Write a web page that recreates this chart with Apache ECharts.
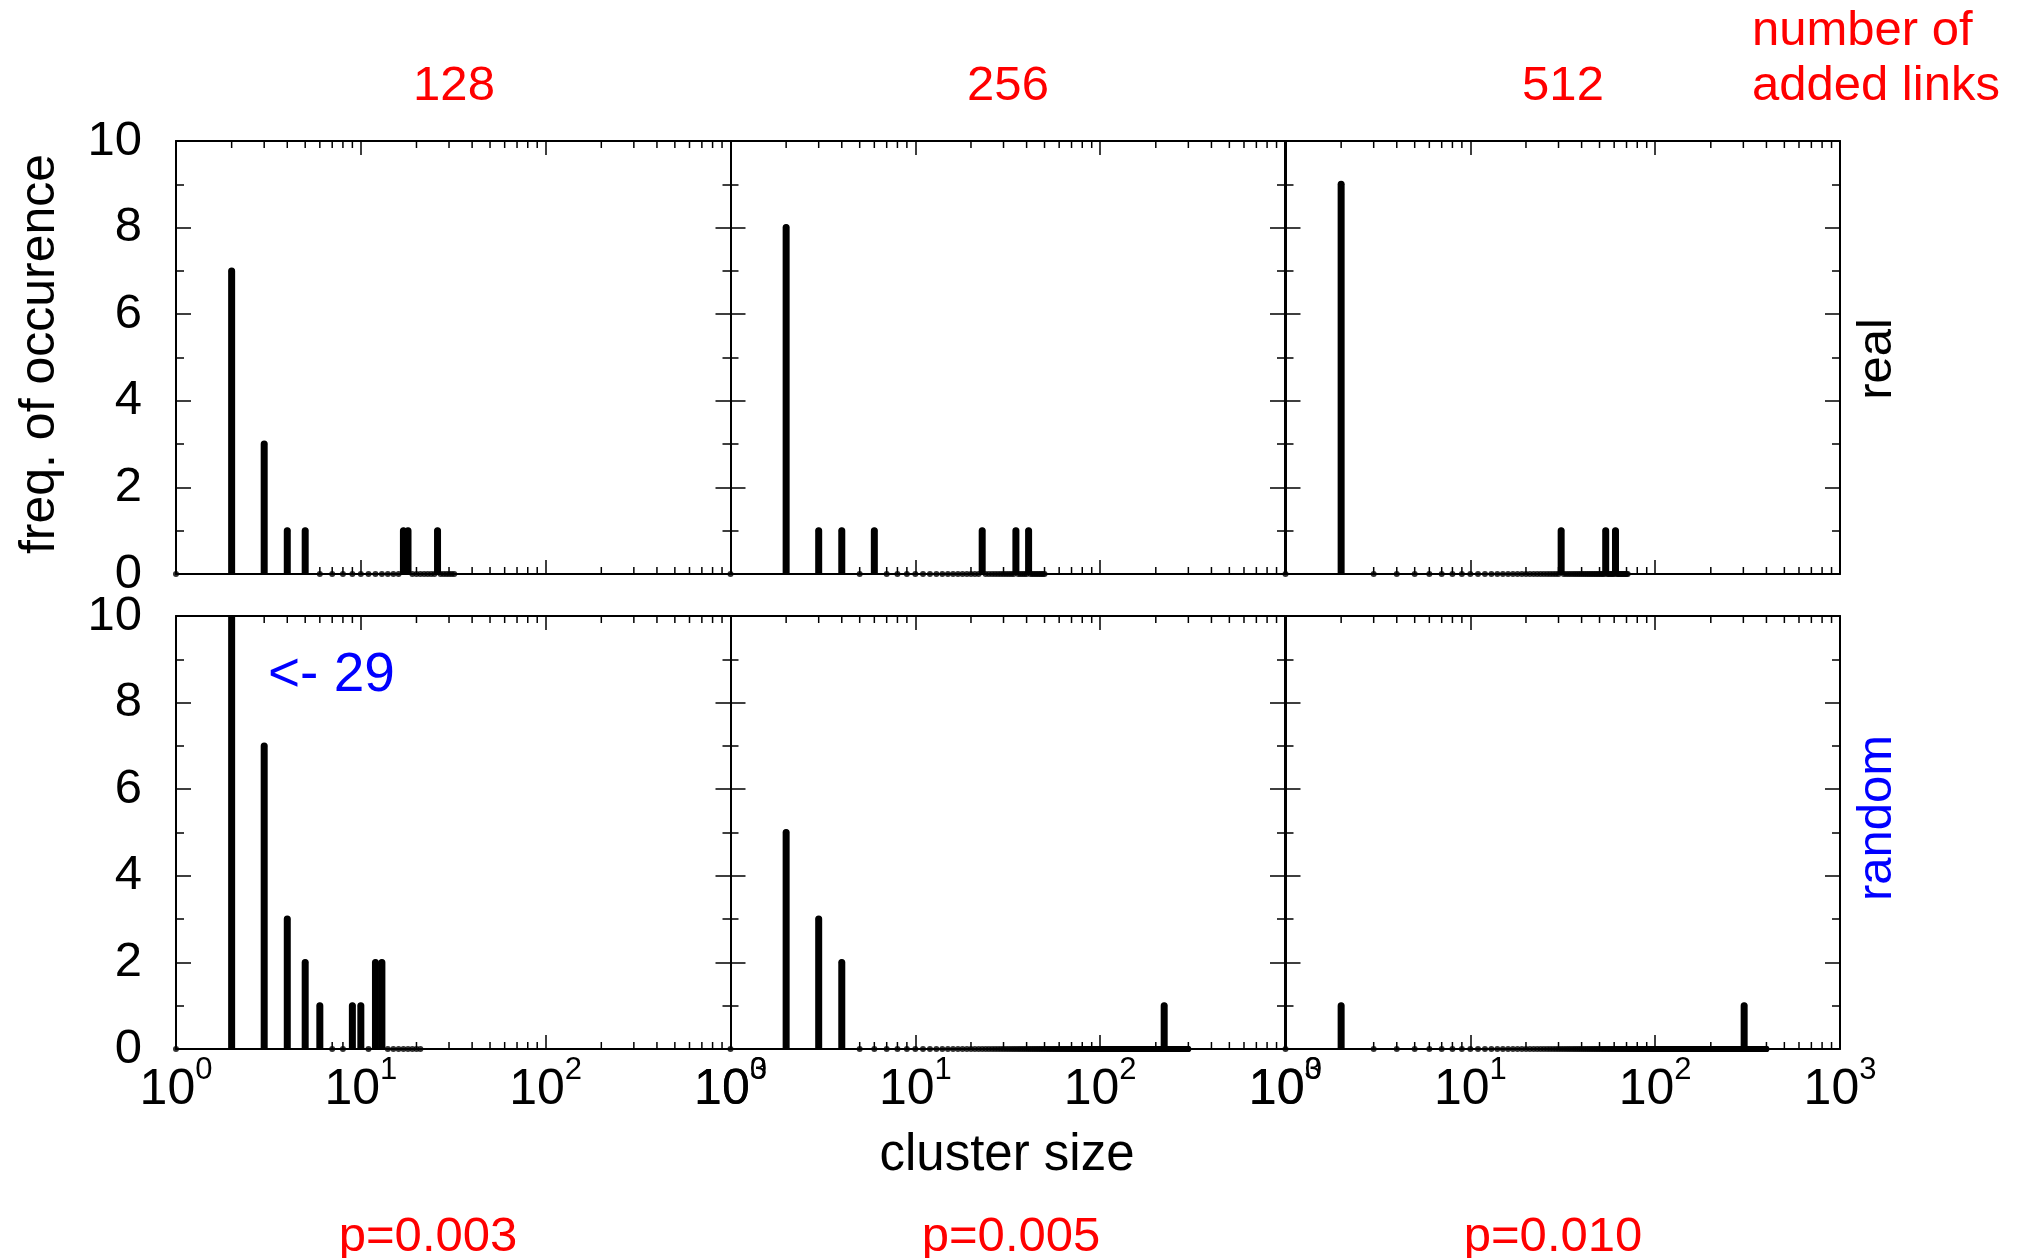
<!DOCTYPE html>
<html>
<head>
<meta charset="utf-8">
<script src="https://cdn.jsdelivr.net/npm/echarts@6/dist/echarts.min.js"></script>
<style>
  html, body { margin: 0; padding: 0; background: #fff; }
  #main { width: 2020px; height: 1258px; }
</style>
</head>
<body>
<div id="main"></div>
<script>
// cluster sizes with a nonzero count, per panel (columns: 128, 256, 512 added links)
const realSizes = [[2, 3, 4, 5, 17, 18, 26], [2, 3, 4, 6, 23, 35, 41], [2, 31, 54, 61]];
const realCounts = [[7, 3, 1, 1, 1, 1, 1], [8, 1, 1, 1, 1, 1, 1], [9, 1, 1, 1]];
const realMaxSize = [32, 50, 71];
const randomSizes = [[2, 3, 4, 5, 6, 9, 10, 12, 13], [2, 3, 4, 222], [2, 303]];
const randomCounts = [[29, 7, 3, 2, 1, 1, 1, 2, 2], [5, 3, 2, 1], [1, 1]];
const randomMaxSize = [21, 300, 400];

const linksLabels = ['128', '256', '512'];
const pLabels = ['p=0.003', 'p=0.005', 'p=0.010'];
const xMinorTicks = [2, 3, 4, 5, 6, 7, 8, 9, 20, 30, 40, 50, 60, 70, 80, 90,
                     200, 300, 400, 500, 600, 700, 800, 900];

const FONT = "'Liberation Sans', Arial, Helvetica, sans-serif";
const RED = '#ff0000', BLUE = '#0000ff';
const Y_MAX = 10;

const chart = echarts.init(document.getElementById('main'));

const colLeft = [176, 730.5, 1285.5];
const rowTop = [141, 616];
const W = 554.5, H = 433;

const grids = [], xAxes = [], yAxes = [], series = [];

function buildPanel(row, col, sizes, counts, maxSize) {
  const i = grids.length;
  grids.push({ left: colLeft[col], top: rowTop[row], width: W, height: H });

  const lineStyle = { color: '#000', width: 2 };
  const tickStyle = { color: '#000', width: 1.5 };
  ['bottom', 'top'].forEach(pos => {
    xAxes.push({
      type: 'log', logBase: 10, min: 1, max: 1000, splitNumber: 3,
      gridIndex: i, position: pos,
      axisLine: { show: true, onZero: false, lineStyle: lineStyle },
      axisTick: { show: true, inside: true, length: 14, lineStyle: tickStyle },
      splitLine: { show: false },
      axisLabel: {
        show: pos === 'bottom' && row === 1,
        margin: 6,
        formatter: v => '{b|10}{s|' + Math.round(Math.log10(v)) + '}',
        rich: {
          b: { fontSize: 50, fontFamily: FONT, color: '#000', padding: [10, 0, 0, 0] },
          s: { fontSize: 31, fontFamily: FONT, color: '#000', verticalAlign: 'top' }
        }
      }
    });
  });
  ['left', 'right'].forEach(pos => {
    yAxes.push({
      type: 'value', min: 0, max: Y_MAX, interval: 2,
      gridIndex: i, position: pos,
      axisLine: { show: true, onZero: false, lineStyle: lineStyle },
      axisTick: { show: true, inside: true, length: 15, lineStyle: tickStyle },
      minorTick: { show: true, splitNumber: 2, length: 8, lineStyle: tickStyle },
      splitLine: { show: false },
      axisLabel: {
        show: pos === 'left' && col === 0,
        margin: 34, fontSize: 49, fontFamily: FONT, color: '#000'
      }
    });
  });

  const xi = 2 * i, yi = 2 * i;

  // impulses
  series.push({
    type: 'custom', xAxisIndex: xi, yAxisIndex: yi, clip: true, silent: true,
    data: sizes.map((s, k) => [s, counts[k]]),
    renderItem: (params, api) => {
      const p0 = api.coord([api.value(0), 0]);
      const p1 = api.coord([api.value(0), api.value(1)]);
      return {
        type: 'line',
        shape: { x1: p0[0], y1: p0[1], x2: p1[0], y2: p1[1] },
        style: { stroke: '#000', lineWidth: 7, lineCap: 'round' }
      };
    }
  });

  // point markers at every cluster size from 1 to the largest
  const dots = [];
  for (let k = 1; k <= maxSize; k++) {
    const idx = sizes.indexOf(k);
    const c = idx >= 0 ? counts[idx] : 0;
    if (c <= Y_MAX) dots.push([k, c]);
  }
  series.push({
    type: 'scatter', xAxisIndex: xi, yAxisIndex: yi, clip: false, silent: true,
    symbol: 'circle', symbolSize: 6,
    itemStyle: { color: '#000' },
    data: dots
  });

  // log minor ticks on bottom and top
  series.push({
    type: 'custom', xAxisIndex: xi, yAxisIndex: yi, silent: true,
    data: xMinorTicks.map(v => [v, 0]),
    renderItem: (params, api) => {
      const b = api.coord([api.value(0), 0]);
      const t = api.coord([api.value(0), Y_MAX]);
      return {
        type: 'group',
        children: [
          { type: 'line', shape: { x1: b[0], y1: b[1], x2: b[0], y2: b[1] - 7 }, style: { stroke: '#000', lineWidth: 1.5 } },
          { type: 'line', shape: { x1: t[0], y1: t[1], x2: t[0], y2: t[1] + 7 }, style: { stroke: '#000', lineWidth: 1.5 } }
        ]
      };
    }
  });
}

for (let c = 0; c < 3; c++) buildPanel(0, c, realSizes[c], realCounts[c], realMaxSize[c]);
for (let c = 0; c < 3; c++) buildPanel(1, c, randomSizes[c], randomCounts[c], randomMaxSize[c]);

function txt(text, x, y, color, opts) {
  opts = opts || {};
  return {
    type: 'text', x: x, y: y, rotation: opts.rotation || 0, silent: true,
    style: {
      text: text, x: 0, y: 0, fill: color,
      fontSize: opts.size || 49, fontFamily: FONT,
      align: opts.align || 'center', textAlign: opts.align || 'center',
      verticalAlign: 'middle', textVerticalAlign: 'middle'
    }
  };
}

const graphics = [];
const linkX = [454, 1008, 1563];
const pX = [428, 1011, 1553];
linksLabels.forEach((t, k) => graphics.push(txt(t, linkX[k], 86, RED)));
pLabels.forEach((t, k) => graphics.push(txt(t, pX[k], 1237, RED)));
graphics.push(txt('number of', 1752, 31, RED, { align: 'left' }));
graphics.push(txt('added links', 1752, 86, RED, { align: 'left' }));
graphics.push(txt('freq. of occurence', 40, 354, '#000', { rotation: Math.PI / 2, size: 50 }));
graphics.push(txt('real', 1877, 359, '#000', { rotation: Math.PI / 2 }));
graphics.push(txt('random', 1877, 818, BLUE, { rotation: Math.PI / 2 }));
graphics.push(txt('cluster size', 1007, 1156, '#000', { size: 51 }));
graphics.push(txt('<- 29', 268, 676, BLUE, { align: 'left', size: 55 }));

chart.setOption({
  animation: false,
  backgroundColor: '#fff',
  grid: grids,
  xAxis: xAxes,
  yAxis: yAxes,
  series: series,
  graphic: graphics
});
</script>
</body>
</html>
